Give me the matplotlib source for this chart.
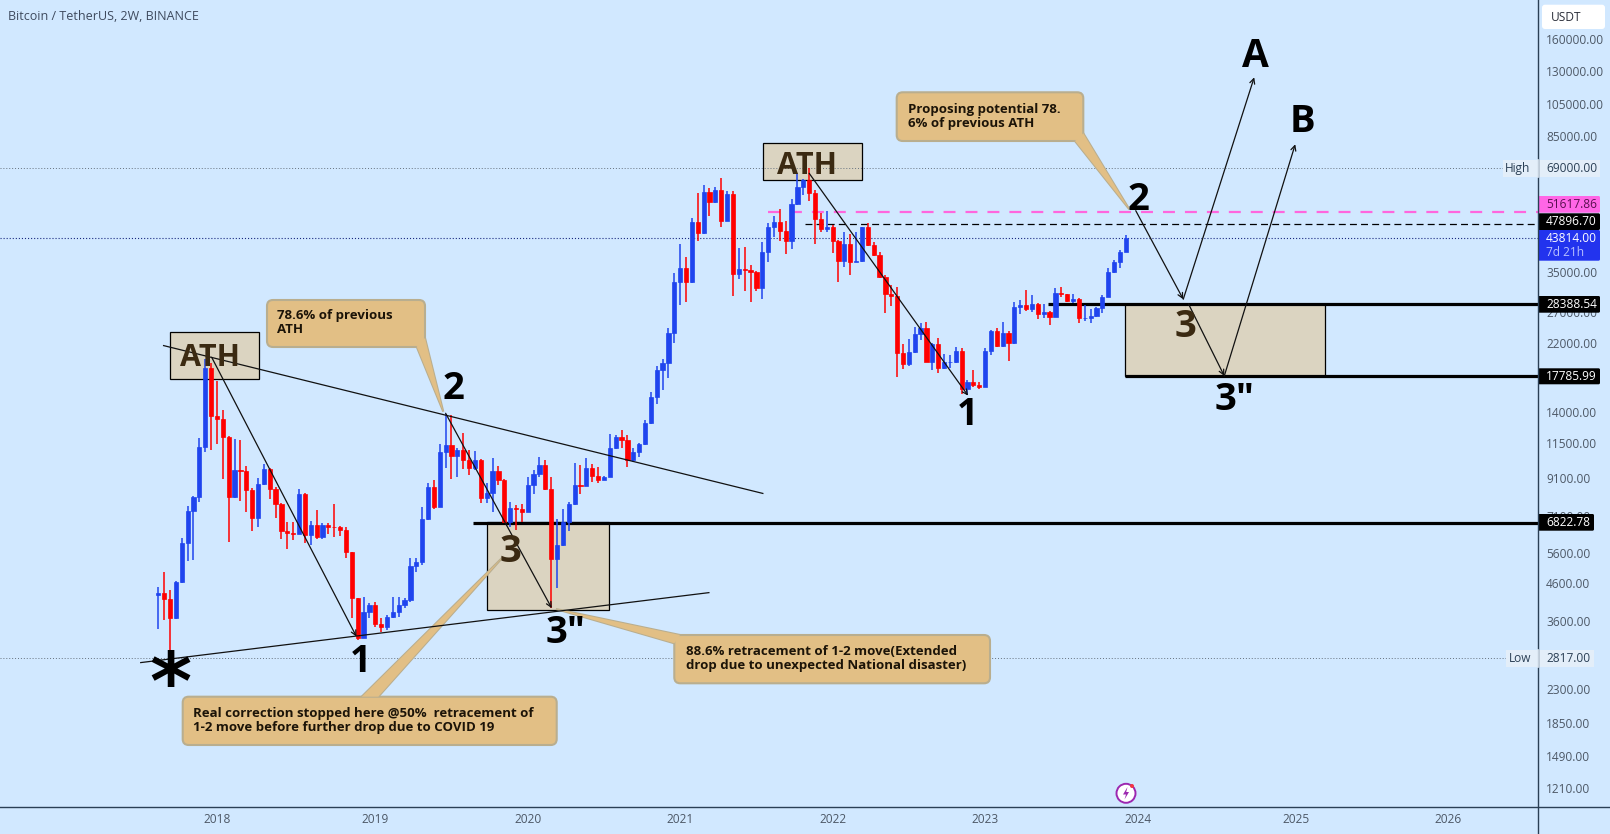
import matplotlib

matplotlib.use("Agg")
import matplotlib.pyplot as plt
import numpy as np
from matplotlib.patches import Circle, FancyBboxPatch, Polygon, Rectangle

plt.rcParams["font.family"] = ["Open Sans", "DejaVu Sans"]
plt.rcParams["lines.scale_dashes"] = False

# --- Candles (one entry per bar) ---
first_open = 4265
closes = [
    4321, 4137, 3655, 4643, 5962, 7345, 8048, 11150, 18750, 13710, 13420, 11900, 8048, 9598, 9556, 8442, 7018, 8760, 9681, 8516, 7689, 6447, 6363, 6350, 8207,
    6295, 6719, 6227, 6719, 6646, 6617, 6503, 5646, 4164, 3208, 3801, 3987, 3522, 3447, 3679, 3801, 3978, 4119, 5142, 5290, 6987, 8590, 7572, 10840, 11350,
    10560, 10960, 10270, 9724, 10270, 7995, 8261, 9556, 9011, 6867, 7491, 7458, 7329, 8722, 9350, 9916, 8497, 5371, 5897, 6867, 7705, 8722, 8684, 9724, 9269,
    9011, 9209, 11080, 11900, 11700, 10270, 10790, 11400, 13040, 15450, 18470, 19290, 23460, 32860, 35840, 32860, 48390, 45040, 58850, 55370, 59750, 48920, 58090, 34470, 35610,
    35460, 35070, 31600, 39790, 46840, 48600, 45830, 42930, 54540, 60800, 63780, 58470, 49340, 46230, 47040, 42930, 37680, 41920, 37440, 37680, 46840, 41740, 39100, 33950, 30250,
    29930, 20590, 19200, 20720, 23310, 24240, 19500, 21880, 18750, 19410, 19500, 20860, 16280, 17040, 16750, 16560, 20860, 23770, 21640, 23460, 21980, 27910, 28220, 27490, 28340,
    26610, 27020, 26150, 30450, 30250, 29030, 29280, 25930, 25930, 26210, 27730, 29800, 34920, 37280, 39790, 43590,
]
highs = [
    4494, 4956, 4397, 4663, 6159, 7605, 8118, 11880, 19800, 19290, 17190, 14230, 12010, 11770, 11700, 9873, 8534, 9110, 10000, 9766, 8628, 7739, 6837, 6837, 8479,
    8297, 6896, 7410, 6822, 6822, 7705, 6675, 6617, 5646, 4182, 4210, 4048, 4075, 3655, 3735, 4210, 4210, 4164, 5406, 5406, 7572, 8817, 9011, 11370, 13830,
    13770, 11080, 12270, 10960, 10910, 10330, 8817, 10380, 9894, 9070, 7823, 7655, 7705, 9209, 9619, 10490, 10270, 9169, 6987, 7442, 7823, 10050, 9937, 10380, 9981,
    9830, 9269, 12140, 12090, 12490, 12090, 11130, 11500, 13330, 15960, 18960, 19840, 24240, 34690, 42010, 38680, 49670, 58470, 61730, 60400, 61060, 64760, 59360, 59360, 41020,
    41290, 36630, 35300, 42660, 48070, 50430, 52790, 48810, 56340, 66610, 64200, 68820, 59750, 51540, 52100, 47550, 43120, 45530, 44840, 45530, 47040, 48070, 42660, 39960, 34320,
    32150, 31670, 21880, 22610, 24500, 25040, 25200, 21980, 22700, 20500, 20370, 21410, 21270, 17300, 18470, 17110, 21270, 23970, 24240, 25310, 23870, 28840, 29160, 31120, 30120,
    28530, 28400, 27200, 31460, 31800, 30250, 30250, 29600, 28220, 27430, 27910, 30120, 35840, 37850, 40400, 44550,
]
lows = [
    3402, 3615, 2822, 3631, 4592, 5313, 5347, 7823, 10840, 10960, 11400, 9070, 6001, 8013, 7858, 7329, 6475, 6646, 8703, 7943, 7048, 6119, 5733, 6093, 6322,
    5988, 5897, 6119, 6146, 6322, 6227, 6254, 5406, 3655, 3173, 3208, 3655, 3462, 3351, 3387, 3655, 3695, 3901, 4075, 4956, 5176, 6942, 7442, 7540, 9724,
    9070, 9169, 9660, 9310, 9619, 7773, 7739, 7329, 8722, 6792, 6646, 6503, 6867, 7329, 8225, 9169, 8442, 3901, 4445, 5871, 6475, 7655, 8225, 8665, 8914,
    8856, 9011, 9209, 11030, 11130, 9830, 10160, 10450, 11320, 12980, 14790, 16210, 17490, 21980, 28220, 28710, 32500, 42930, 44840, 50430, 55010, 47040, 48810, 29990, 33440,
    30920, 28710, 30920, 29350, 37440, 43880, 42930, 39360, 40660, 54180, 57830, 55610, 41920, 45530, 45530, 39700, 32860, 36240, 34320, 37280, 37440, 41560, 38850, 33580, 26730,
    28040, 17680, 18590, 19000, 20590, 22460, 19500, 18470, 18070, 18550, 18670, 19370, 15790, 15690, 16490, 16310, 16560, 20370, 21410, 21410, 19580, 21880, 26550, 27200, 27020,
    25760, 25870, 24770, 26040, 29800, 28840, 28650, 25150, 25480, 25040, 26040, 26730, 29800, 34690, 35840, 39790,
]
opens = [first_open] + closes[:-1]

# --- Axis ticks ---
year_bars = [10, 37, 63, 89, 115, 141, 167, 194, 220]
year_labels = ["2018", "2019", "2020", "2021", "2022", "2023", "2024", "2025", "2026"]
price_ticks = [160000, 130000, 105000, 85000, 35000, 27000, 22000, 14000, 11500, 9100, 7100, 5600, 4600, 3600, 2900, 2300, 1850, 1490, 1210]

# --- Drawings on the chart, as (bar, price) pairs ---
trend_lines = [((0.9, 21650), (103.1, 8252)), ((-3.0, 2737), (93.9, 4320))]
arrows = [
    ((9.1, 20060), (33.8, 3242)),
    ((49.0, 13920), (67.1, 3902)),
    ((111.0, 66630), (138.1, 15620)),
    ((166.7, 52200), (174.8, 29290)),
    ((174.8, 29290), (186.9, 124600)),
    ((175.7, 28400), (181.8, 17760)),
    ((181.8, 17760), (193.9, 80500)),
]
# (first bar, last bar, top price, bottom price)
boxes = [
    (2.0, 17.1, 23710, 17380),
    (103.1, 120.0, 81350, 63650),
    (56.0, 76.9, 6838, 3852),
    (164.9, 198.9, 28388.54, 17785.99),
]
# (first bar, price)
solid_levels = [(151.7, 28388.54), (164.8, 17785.99), (53.7, 6822.78)]
high_price = 69000
low_price = 2817
last_price = 43814
pink_level = (104.0, 51617.86)
black_dash_level = (110.3, 47896.70)

BG = "#d1e8ff"
BLUE = "#1f44ee"
RED = "#ff0000"
AXIS = "#2a3f55"
TICK_TEXT = "#4d5866"
BOX_FILL = "#dbd4c1"
CALLOUT_FILL = "#e2bf85"
CALLOUT_EDGE = "#b9ae8f"
BROWN = "#3b2a12"
LABEL_SIZE = 8.6

fig = plt.figure(figsize=(16.1, 8.34), dpi=100, facecolor=BG)
ax = fig.add_axes([0, (834 - 806.7) / 834, 1538 / 1610, 806.7 / 834], facecolor=BG)
ax.set_yscale("log")
ax.set_xlim(-27.0, 235.3)
ax.set_ylim(1069, 206350)

# overlay in canvas pixels for the callouts, text notes and price labels
ov = fig.add_axes([0, 0, 1, 1], facecolor="none", zorder=5)
ov.set_xlim(0, 1610)
ov.set_ylim(834, 0)
ov.axis("off")

for spine in ("left", "top", "right", "bottom"):
    ax.spines[spine].set_visible(False)
ax.yaxis.tick_right()
ax.set_yticks(price_ticks)
ax.set_yticklabels([f"{p:.2f}" for p in price_ticks])
ax.minorticks_off()
ax.set_xticks(year_bars)
ax.set_xticklabels(year_labels)
ax.tick_params(axis="y", length=0, pad=5.8, labelsize=LABEL_SIZE, labelcolor=TICK_TEXT)
ax.tick_params(axis="x", length=0, pad=4.5, labelsize=LABEL_SIZE, labelcolor=TICK_TEXT)

# boxes under everything else
for x0, x1, top, bottom in boxes:
    ax.add_patch(Rectangle((x0, bottom), x1 - x0, top - bottom, facecolor=BOX_FILL, edgecolor="black", lw=0.9, zorder=1))

# price lines
ax.axhline(high_price, color="#66727f", lw=0.7, dashes=(0.7, 1.4), zorder=1.5)
ax.axhline(low_price, color="#66727f", lw=0.7, dashes=(0.7, 1.4), zorder=1.5)
ax.axhline(last_price, color="#1a2a80", lw=0.8, dashes=(0.8, 1.4), zorder=1.5)
ax.plot([pink_level[0], 235.3], [pink_level[1]] * 2, color="#ff66dd", lw=1.6, dashes=(8.6, 7.2), zorder=2)
ax.plot([black_dash_level[0], 235.3], [black_dash_level[1]] * 2, color="black", lw=0.9, dashes=(5, 3), zorder=2)
for start, level in solid_levels:
    ax.plot([start, 235.3], [level, level], color="black", lw=2.3, solid_capstyle="butt", zorder=2)


def callout(left, top, right, bottom, tail, lines, text_x, text_ys):
    # tail with border, box with border, then tail fill again to hide the seam
    kw = {"transform": ov.transData, "clip_on": False}
    ax.add_patch(Polygon(tail, closed=True, facecolor=CALLOUT_FILL, edgecolor=CALLOUT_EDGE, lw=1.5, zorder=2.4, **kw))
    ax.add_patch(
        FancyBboxPatch(
            (left, top),
            right - left,
            bottom - top,
            boxstyle="round,pad=0,rounding_size=6",
            facecolor=CALLOUT_FILL,
            edgecolor=CALLOUT_EDGE,
            lw=1.5,
            zorder=2.5,
            **kw,
        )
    )
    ax.add_patch(Polygon(tail, closed=True, facecolor=CALLOUT_FILL, edgecolor="none", zorder=2.6, **kw))
    for line, y in zip(lines, text_ys):
        ov.text(text_x, y, line, fontsize=9.5, fontweight="bold", color="#1c1408", ha="left", va="center")


callout(267, 300, 425, 347, [(416.7, 346.7), (425, 338), (443.3, 411.7)], ["78.6% of previous", "ATH"], 276.7, [315.7, 329.3])
callout(
    896.7, 92.3, 1083.3, 141,
    [(1075, 141), (1083.3, 133.3), (1129.3, 209.3)],
    ["Proposing potential 78.", "6% of previous ATH"],
    907.7, [109.3, 123.3],
)
callout(
    182.7, 696.7, 556.7, 745,
    [(361.7, 696.7), (378.3, 696.7), (503.3, 556.7)],
    ["Real correction stopped here @50%  retracement of", "1-2 move before further drop due to COVID 19"],
    193.3, [713.3, 727.3],
)
callout(
    674.3, 635, 990, 683.3,
    [(680, 635), (674.3, 643.3), (556, 609)],
    ["88.6% retracement of 1-2 move(Extended", "drop due to unexpected National disaster)"],
    685.7, [651.7, 665.7],
)

# candles
bars = np.arange(len(closes))
o = np.array(opens, dtype=float)
c = np.array(closes, dtype=float)
colors = [BLUE if b >= a else RED for a, b in zip(o, c)]
ax.vlines(bars, lows, highs, colors=colors, lw=1.1, zorder=3)
ax.bar(bars, np.abs(c - o), bottom=np.minimum(o, c), width=0.72, color=colors, edgecolor=colors, lw=0.5, zorder=3.1)

# trend lines and arrows
for (x0, y0), (x1, y1) in trend_lines:
    ax.plot([x0, x1], [y0, y1], color="#111111", lw=0.9, zorder=4)
for start, end in arrows:
    ax.annotate(
        "",
        xy=end,
        xytext=start,
        arrowprops=dict(arrowstyle="->", color="#111111", lw=0.9, shrinkA=0, shrinkB=0, mutation_scale=9),
        zorder=4,
    )

# big notes, placed on their baseline
notes = [
    ("ATH", 210, 365.7, 22, BROWN),
    ("ATH", 806.7, 174, 22, BROWN),
    ("2", 453.3, 399.3, 27.5, "black"),
    ("3", 510.7, 561.7, 27.5, BROWN),
    ('3"', 565.7, 643, 27.5, "black"),
    ("1", 360, 671.7, 27, "black"),
    ("1", 967.7, 425, 27, "black"),
    ("2", 1138.3, 210, 27.5, "black"),
    ("3", 1185, 336.7, 27.5, BROWN),
    ('3"', 1234, 410, 27.5, "black"),
    ("A", 1255.7, 67.3, 28, "black"),
    ("B", 1302.3, 131.7, 27.5, "black"),
]
for text, x, y, size, color in notes:
    ov.text(x, y, text, fontsize=size, fontweight="bold", color=color, ha="center", va="baseline")
ov.text(170, 709, "*", fontsize=58, fontweight="bold", family="DejaVu Sans", color="black", ha="center", va="baseline")

# title
ov.text(8, 16, "Bitcoin / TetherUS, 2W, BINANCE", fontsize=9, color="#3e4a5e", ha="left", va="center")

# axis frame
ov.plot([0, 1610], [806.7, 806.7], color=AXIS, lw=1.0)
ov.plot([1538, 1538], [0, 834], color=AXIS, lw=1.0)


def price_label(x1, y0, y1, text, fill, color, text_y=None, x_text=1546):
    ov.add_patch(FancyBboxPatch((1538, y0), x1 - 1538, y1 - y0, boxstyle="round,pad=0,rounding_size=1.5", facecolor=fill, edgecolor="none"))
    ov.text(x_text, (y0 + y1) / 2 if text_y is None else text_y, text, fontsize=LABEL_SIZE, color=color, ha="left", va="center")


ov.add_patch(FancyBboxPatch((1542, 4.7), 63, 24.3, boxstyle="round,pad=0,rounding_size=3", facecolor="white", edgecolor="none"))
ov.text(1551, 17, "USDT", fontsize=LABEL_SIZE, color="#2a2e39", ha="left", va="center")

ov.add_patch(Rectangle((1503, 160), 97, 16.7, facecolor="#e3eef9", edgecolor="none"))
ov.text(1518, 168, "High", fontsize=LABEL_SIZE, color="#2a3f55", ha="center", va="center")
ov.text(1546, 168, f"{high_price:.2f}", fontsize=LABEL_SIZE, color="#2a3f55", ha="left", va="center")

ov.add_patch(Rectangle((1505.7, 650), 88.3, 16.7, facecolor="#e3eef9", edgecolor="none"))
ov.text(1520, 658.5, "Low", fontsize=LABEL_SIZE, color="#2a3f55", ha="center", va="center")
ov.text(1546, 658.5, f"{low_price:.2f}", fontsize=LABEL_SIZE, color="#2a3f55", ha="left", va="center")

ov.plot([1538, 1538], [160, 176.7], color="#e3eef9", lw=1.2)
ov.plot([1538, 1538], [650, 666.7], color="#e3eef9", lw=1.2)

price_label(1600, 196, 212.7, f"{pink_level[1]:.2f}", "#ff66e6", "#5a1050")
price_label(1600, 213.3, 230, f"{black_dash_level[1]:.2f}", "black", "white")
price_label(1600, 230, 260.7, f"{last_price:.2f}", "#2233ee", "white", text_y=238.7)
ov.text(1546, 252.7, "7d 21h", fontsize=LABEL_SIZE, color="#b8c0ff", ha="left", va="center")
price_label(1600, 296, 312.7, f"{solid_levels[0][1]:.2f}", "black", "white")
price_label(1600, 368.3, 384.3, f"{solid_levels[1][1]:.2f}", "black", "white")
price_label(1594, 514, 530.7, f"{solid_levels[2][1]:.2f}", "black", "white")

# lightning badge on the time axis
ov.add_patch(Circle((1126, 793.3), 9.5, facecolor="white", edgecolor="#9c27b0", lw=1.4))
ov.add_patch(Polygon([(1127.5, 787), (1123, 794.5), (1126, 794.5), (1124.5, 799.5), (1129, 792), (1126.2, 792)], closed=True, facecolor="#9c27b0", edgecolor="none"))
ov.add_patch(Circle((1132, 786), 2, facecolor="#f23645", edgecolor="none"))

fig.savefig("out.png", dpi=100, facecolor=BG)
